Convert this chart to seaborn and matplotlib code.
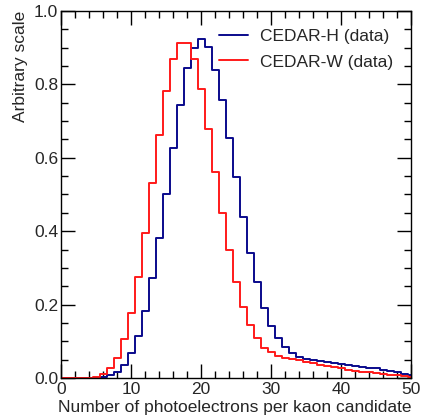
import numpy as np
import pandas as pd
import seaborn as sns
import matplotlib
matplotlib.use("Agg")
import matplotlib.pyplot as plt
from matplotlib.lines import Line2D
from matplotlib.ticker import MultipleLocator

# Bin centres (number of photoelectrons), bins of width 1
bins_centres = list(range(0, 51))

cedar_h = [0.0, 0.0, 0.0, 0.0, 0.0, 0.001, 0.004, 0.008, 0.017, 0.035,
           0.067, 0.115, 0.183, 0.272, 0.381, 0.501, 0.626, 0.744, 0.844, 0.898,
           0.923, 0.901, 0.839, 0.757, 0.653, 0.547, 0.438, 0.340, 0.261, 0.192,
           0.142, 0.108, 0.084, 0.067, 0.058, 0.053, 0.050, 0.047, 0.044, 0.041,
           0.038, 0.035, 0.032, 0.030, 0.028, 0.026, 0.023, 0.020, 0.016, 0.012,
           0.009]

cedar_w = [0.0, 0.0, 0.0, 0.0, 0.0, 0.003, 0.010, 0.026, 0.054, 0.105,
           0.178, 0.274, 0.394, 0.530, 0.662, 0.783, 0.868, 0.914, 0.914, 0.868,
           0.787, 0.678, 0.562, 0.449, 0.349, 0.261, 0.194, 0.144, 0.108, 0.083,
           0.070, 0.061, 0.055, 0.052, 0.048, 0.044, 0.040, 0.036, 0.032, 0.029,
           0.026, 0.023, 0.020, 0.017, 0.015, 0.013, 0.011, 0.009, 0.007, 0.005,
           0.004]

series_names = ["CEDAR-H (data)", "CEDAR-W (data)"]
series_colors = ["#0a0a8c", "#ff1a1a"]

df = pd.DataFrame({
    "npe": bins_centres * 2,
    "weight": cedar_h + cedar_w,
    "series": [series_names[0]] * len(bins_centres) + [series_names[1]] * len(bins_centres),
})

sns.set_style("ticks")
plt.rcParams["font.family"] = ["Liberation Sans", "DejaVu Sans"]

FS = 12.5
fig = plt.figure(figsize=(4.22, 4.19), dpi=100)
ax = fig.add_axes([61 / 422, 1 - 378 / 419, 350 / 422, 367 / 419])

for name, col in zip(series_names, series_colors):
    sub = df[df["series"] == name]
    sns.histplot(data=sub, x="npe", weights="weight", binwidth=1.0,
                 binrange=(-0.5, 50.5), element="step", fill=False,
                 color=col, linewidth=1.4, ax=ax)

ax.set_xlim(0, 50)
ax.set_ylim(0, 1.0)
ax.xaxis.set_major_locator(MultipleLocator(10))
ax.xaxis.set_minor_locator(MultipleLocator(2))
ax.yaxis.set_major_locator(MultipleLocator(0.2))
ax.yaxis.set_minor_locator(MultipleLocator(0.05))
ax.yaxis.set_major_formatter(matplotlib.ticker.FormatStrFormatter("%.1f"))
ax.tick_params(which="both", direction="in", top=True, right=True, color="black")
ax.tick_params(which="major", length=10, width=1.0, labelsize=FS)
ax.tick_params(axis="x", which="major", pad=3)
ax.tick_params(axis="y", which="major", pad=2)
ax.tick_params(which="minor", length=5, width=1.0)
for s in ax.spines.values():
    s.set_color("black")
    s.set_linewidth(1.0)

ax.set_xlabel("Number of photoelectrons per kaon candidate", fontsize=FS, loc="right", labelpad=2)
ax.set_ylabel("Arbitrary scale", fontsize=FS, loc="top", labelpad=4)

handles = [Line2D([0], [0], color=c, lw=1.4) for c in series_colors]
ax.legend(handles, series_names, loc="upper right", frameon=False, fontsize=FS,
          handlelength=1.65, handletextpad=0.7, bbox_to_anchor=(0.993, 0.994),
          labelspacing=0.6)

fig.savefig("out.png", dpi=100)
